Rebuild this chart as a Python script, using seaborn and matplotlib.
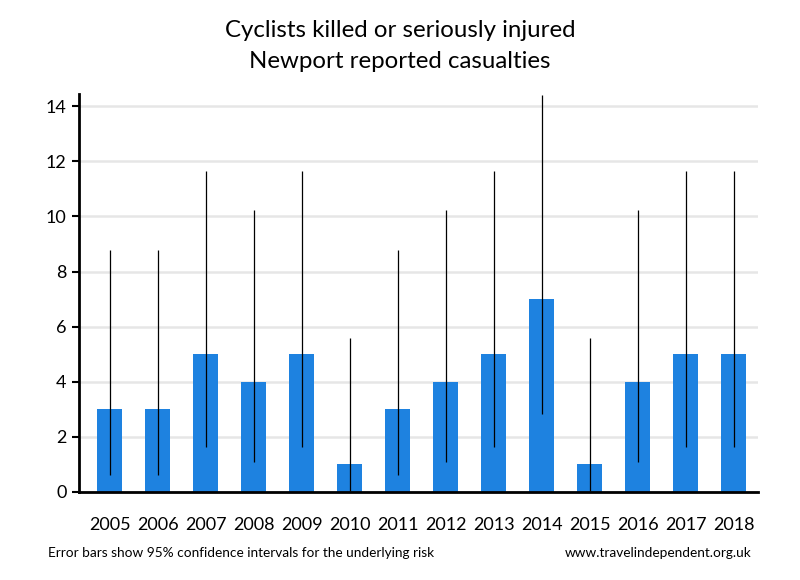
import matplotlib
matplotlib.use("Agg")
import matplotlib.pyplot as plt
import seaborn as sns
import pandas as pd

years = ["2005", "2006", "2007", "2008", "2009", "2010", "2011",
         "2012", "2013", "2014", "2015", "2016", "2017", "2018"]
casualties = [3, 3, 5, 4, 5, 1, 3, 4, 5, 7, 1, 4, 5, 5]
ci_low = [0.62, 0.62, 1.62, 1.09, 1.62, 0.03, 0.62, 1.09, 1.62, 2.81, 0.03, 1.09, 1.62, 1.62]
ci_high = [8.77, 8.77, 11.67, 10.24, 11.67, 5.57, 8.77, 10.24, 11.67, 14.42, 5.57, 10.24, 11.67, 11.67]

sns.set_theme(style="white")
plt.rcParams["font.family"] = ["Lato", "DejaVu Sans"]
plt.rcParams["text.color"] = "black"
plt.rcParams["xtick.color"] = "black"
plt.rcParams["ytick.color"] = "black"

df = pd.DataFrame({"year": years, "ksi": casualties})

fig = plt.figure(figsize=(8, 5.8), dpi=100)
ax = fig.add_axes([0.099, 0.152, 0.849, 0.686])

sns.barplot(data=df, x="year", y="ksi", color="#1e82e0", saturation=1,
            width=0.52, linewidth=0, ax=ax, zorder=2)
ax.vlines(range(len(years)), ci_low, ci_high, color="black", linewidth=0.9, zorder=3)

ax.set_ylim(0, 14.45)
ax.set_xlim(-0.635, 13.51)
ax.set_yticks(range(0, 15, 2))
ax.yaxis.grid(True, color="#e6e6e6", linewidth=1.8, zorder=0)
ax.set_axisbelow(True)
ax.set_xlabel("")
ax.set_ylabel("")

for s in ["top", "right"]:
    ax.spines[s].set_visible(False)
for s in ["left", "bottom"]:
    ax.spines[s].set_color("black")
    ax.spines[s].set_linewidth(2)

ax.tick_params(axis="y", left=True, length=5, width=1.5, color="black",
               labelsize=13, pad=4)
ax.tick_params(axis="x", bottom=False, labelsize=13, pad=12)

fig.text(0.5, 0.948, "Cyclists killed or seriously injured", ha="center",
         va="center", fontsize=17.3)
fig.text(0.5, 0.894, "Newport reported casualties", ha="center",
         va="center", fontsize=17.3)
fig.text(0.06, 0.046, "Error bars show 95% confidence intervals for the underlying risk",
         ha="left", va="center", fontsize=9.8)
fig.text(0.94, 0.046, "www.travelindependent.org.uk", ha="right",
         va="center", fontsize=9.8)

fig.savefig("out.png", dpi=100)
